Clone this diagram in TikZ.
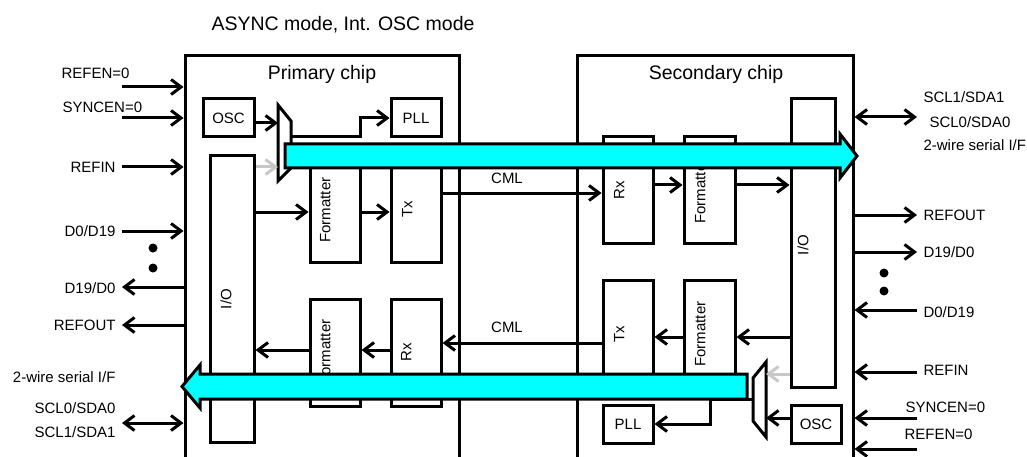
\documentclass[tikz,border=0pt]{standalone}
\usepackage{fontspec}
\setmainfont{Liberation Sans}
\usetikzlibrary{arrows.meta,calc}
\definecolor{pingrey}{RGB}{200,200,200}
\definecolor{aqua}{RGB}{0,255,255}
\begin{document}
\begin{tikzpicture}[x=1pt,y=-1pt,
  line width=3pt,
  >={Straight Barb[length=10pt,width=15pt]},
  box/.style={draw,fill=white,inner sep=0pt,line width=3pt},
  lbl/.style={font=\fontsize{15}{18}\selectfont,inner sep=0pt,text height=10.7pt,text depth=0pt},
  ttl/.style={font=\fontsize{19.5}{23}\selectfont,inner sep=0pt,text height=14pt,text depth=0pt},
  vtxt/.style={lbl,rotate=90},
  wire/.style={line width=3pt},
  sig/.style={wire,->},
  greysig/.style={wire,->,draw=pingrey},
  bigarrow/.style={draw=black,fill=aqua,line width=3pt,line join=miter},
  mux/.style={draw,fill=white,line width=3pt,line join=miter},
  dot/.style={fill=black}
]
\useasboundingbox (0,0) rectangle (1027,457);

% title
\node[ttl,anchor=west] (title) at (210,23.5) {ASYNC mode, Int. OSC mode};

% chips
\node[box,minimum width=274pt,minimum height=414pt] (chip1) at (322,263) {};
\node[box,minimum width=276pt,minimum height=414pt] (chip2) at (715,263) {};
\node[ttl] (chip1t) at (322,73) {Primary chip};
\node[ttl] (chip2t) at (716,73) {Secondary chip};

% primary blocks
\node[box,minimum width=51pt,minimum height=38pt] (osc1) at (228.5,118) {};
\node[box,minimum width=50pt,minimum height=38pt] (pll1) at (416,118) {};
\node[box,minimum width=44pt,minimum height=286pt] (io1) at (232,299) {};
\node[box,minimum width=50pt,minimum height=107pt] (fmtA1) at (335,208.5) {};
\node[box,minimum width=50pt,minimum height=107pt] (tx1) at (416,208.5) {};
\node[box,minimum width=50pt,minimum height=107pt] (fmtB1) at (335,352.5) {};
\node[box,minimum width=50pt,minimum height=107pt] (rx1) at (416,352.5) {};

% secondary blocks
\node[box,minimum width=50pt,minimum height=106pt] (rx2) at (628,190) {};
\node[box,minimum width=51pt,minimum height=106pt] (fmtA2) at (709.5,190) {};
\node[box,minimum width=44pt,minimum height=288pt] (io2) at (813,243) {};
\node[box,minimum width=50pt,minimum height=107pt] (tx2) at (628,333.5) {};
\node[box,minimum width=51pt,minimum height=107pt] (fmtB2) at (709.5,333.5) {};
\node[box,minimum width=50pt,minimum height=38pt] (pll2) at (628,424) {};
\node[box,minimum width=50pt,minimum height=38pt] (osc2) at (816,424) {};

% block texts
\node[lbl] (osc1t) at (osc1) {OSC};
\node[lbl] (pll1t) at (pll1) {PLL};
\node[lbl] (osc2t) at (osc2) {OSC};
\node[lbl] (pll2t) at (pll2) {PLL};
\node[vtxt] (fmtA1t) at (325,210) {Formatter};
\node[vtxt] (tx1t) at (407,209) {Tx};
\node[vtxt] (fmtB1t) at (325,352) {Formatter};
\node[vtxt] (rx1t) at (406,352) {Rx};
\node[vtxt] (io1t) at (226,299) {I/O};
\node[vtxt] (rx2t) at (619,190) {Rx};
\node[vtxt] (fmtA2t) at (700,191) {Formatter};
\node[vtxt] (tx2t) at (619,334) {Tx};
\node[vtxt] (fmtB2t) at (700,334) {Formatter};
\node[vtxt] (io2t) at (803,245) {I/O};

% muxes
\draw[mux] (278,105) -- (291,121) -- (291,168) -- (278,181) -- cycle;
\draw[mux] (766,362) -- (766,437) -- (753,421) -- (753,378) -- cycle;
\coordinate (mux1w) at (278,143);
\coordinate (mux1e) at (291,143);
\coordinate (mux2w) at (753,400);
\coordinate (mux2e) at (766,400);

% primary internal connectors
\draw[sig] (osc1.east |- 0,123) -- (mux1w |- 0,123);
\draw[sig] (mux1e |- 0,137) -- (360,137) |- (pll1.west);
\draw[greysig] (io1.east |- 0,167) -- (mux1w |- 0,167);
\draw[sig] (io1.east |- 0,212) -- (fmtA1.west |- 0,212);
\draw[sig] (fmtA1.east |- 0,212) -- (tx1.west |- 0,212);
\draw[sig] (rx1.west |- 0,350) -- (fmtB1.east |- 0,350);
\draw[sig] (fmtB1.west |- 0,350) -- (io1.east |- 0,350);

% CML links
\draw[sig] (tx1.east |- 0,193) -- (rx2.west |- 0,193);
\draw[sig] (tx2.west |- 0,343) -- (rx1.east |- 0,343);
\node[lbl] (cml1) at (507,178) {CML};
\node[lbl] (cml2) at (507,327) {CML};

% secondary internal connectors
\draw[sig] (rx2.east |- 0,185) -- (fmtA2.west |- 0,185);
\draw[sig] (fmtA2.east |- 0,185) -- (io2.west |- 0,185);
\draw[sig] (io2.west |- 0,337) -- (fmtB2.east |- 0,337);
\draw[sig] (fmtB2.west |- 0,337) -- (tx2.east |- 0,337);
\draw[greysig] (io2.west |- 0,374) -- (mux2e |- 0,374);
\draw[sig] (osc2.west |- 0,418) -- (mux2e |- 0,418);
\draw[sig] (mux2w |- 0,399) -- (710,399) |- (pll2.east);

% left pins
\coordinate (pL1) at (122,87);
\coordinate (pL2) at (122,118);
\coordinate (pL3) at (122,167);
\coordinate (pL4) at (122,231);
\coordinate (pL5) at (122,287);
\coordinate (pL6) at (122,325);
\coordinate (pL7) at (122,423);
\draw[sig] (pL1) -- (chip1.west |- pL1);
\draw[sig] (pL2) -- (chip1.west |- pL2);
\draw[sig] (pL3) -- (chip1.west |- pL3);
\draw[sig] (pL4) -- (chip1.west |- pL4);
\draw[sig] (chip1.west |- pL5) -- (pL5);
\draw[sig] (chip1.west |- pL6) -- (pL6);
\draw[wire,<->] (pL7) -- (chip1.west |- pL7);
\fill[dot] (153,248) circle (4.5);
\fill[dot] (153,268) circle (4.5);

\node[lbl,anchor=west] (lREFEN) at (60,73) {REFEN=0};
\node[lbl,anchor=west] (lSYNC) at (61,107) {SYNCEN=0};
\node[lbl,anchor=east] (lREFIN) at (117,167) {REFIN};
\node[lbl,anchor=east] (lD0) at (117,231) {D0/D19};
\node[lbl,anchor=east] (lD19) at (117,288) {D19/D0};
\node[lbl,anchor=east] (lREFOUT) at (117,325) {REFOUT};
\node[lbl,anchor=east] (l2w) at (117,377) {2-wire serial I/F};
\node[lbl,anchor=east] (lSCL0) at (117,408) {SCL0/SDA0};
\node[lbl,anchor=east] (lSCL1) at (117,432) {SCL1/SDA1};

% right pins
\coordinate (pR1) at (917,117);
\coordinate (pR2) at (917,215);
\coordinate (pR3) at (917,252);
\coordinate (pR4) at (917,310);
\coordinate (pR5) at (917,372);
\coordinate (pR6) at (917,418);
\coordinate (pR7) at (917,449);
\draw[wire,<->] (chip2.east |- pR1) -- (pR1);
\draw[sig] (chip2.east |- pR2) -- (pR2);
\draw[sig] (chip2.east |- pR3) -- (pR3);
\draw[sig] (pR4) -- (chip2.east |- pR4);
\draw[sig] (pR5) -- (chip2.east |- pR5);
\draw[sig] (pR6) -- (chip2.east |- pR6);
\draw[sig] (pR7) -- (chip2.east |- pR7);
\fill[dot] (884,273) circle (4.5);
\fill[dot] (884,291) circle (4.5);

\node[lbl,anchor=west] (rSCL1) at (922,97) {SCL1/SDA1};
\node[lbl,anchor=west] (rSCL0) at (928,122) {SCL0/SDA0};
\node[lbl,anchor=west] (r2w) at (922,145) {2-wire serial I/F};
\node[lbl,anchor=west] (rREFOUT) at (922,215) {REFOUT};
\node[lbl,anchor=west] (rD19) at (922,252) {D19/D0};
\node[lbl,anchor=west] (rD0) at (922,312) {D0/D19};
\node[lbl,anchor=west] (rREFIN) at (922,370) {REFIN};
\node[lbl,anchor=west] (rSYNC) at (904,407) {SYNCEN=0};
\node[lbl,anchor=west] (rREFEN) at (903,434) {REFEN=0};

% big serial-interface arrows
\draw[bigarrow] (285,144) -- (840,144) -- (840,134) -- (857,156) -- (840,178) -- (840,168) -- (285,168) -- cycle;
\draw[bigarrow] (747,374) -- (200,374) -- (200,365) -- (182,386.5) -- (200,408) -- (200,399) -- (747,399) -- cycle;
\end{tikzpicture}
\end{document}
